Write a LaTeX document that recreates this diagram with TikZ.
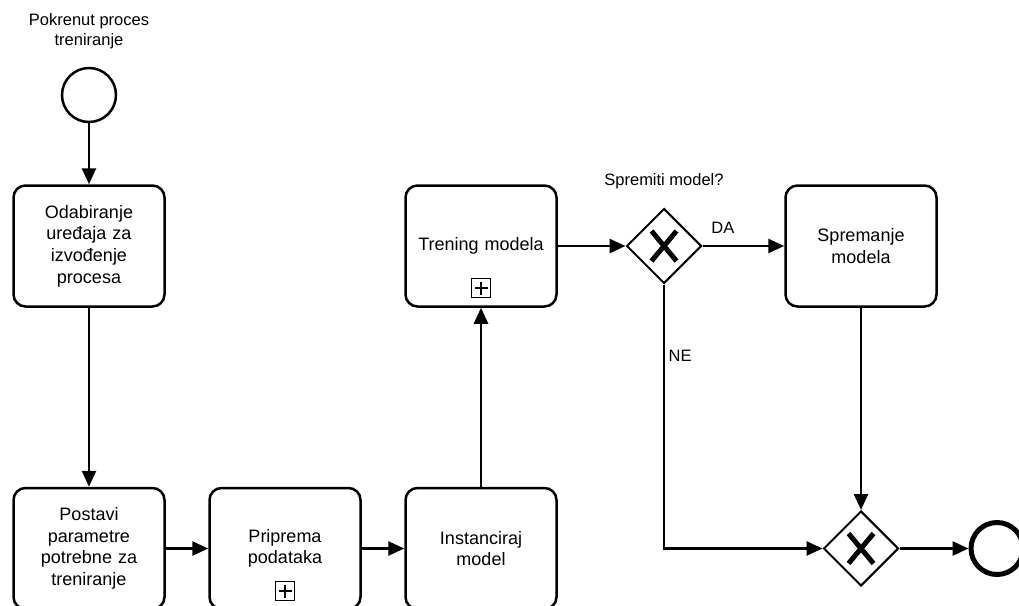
\documentclass[tikz,border=0pt]{standalone}
\usepackage{fontspec}
\setmainfont{Liberation Sans}
\usetikzlibrary{shapes.geometric,arrows.meta,positioning,calc}

\begin{document}
\begin{tikzpicture}[x=1pt,y=-1pt,
  task/.style={draw,line width=2.5pt,rounded corners=12pt,minimum width=151pt,
    minimum height=121pt,text width=140pt,align=center,
    font=\fontsize{18}{21.6}\selectfont},
  gate/.style={draw,diamond,aspect=1,line width=2pt,minimum size=75pt,inner sep=0pt},
  flow/.style={line width=2.6pt,-{Triangle[length=16pt,width=14pt]}},
  lbl/.style={align=center,font=\fontsize{16.5}{20}\selectfont}]

% Page size
\useasboundingbox (0,0) rectangle (1019,605);

% Exclusive gateway marker
\def\xmark#1{\draw[line width=5pt] ($(#1)+(-12.5,-15)$) -- ($(#1)+(12.5,15)$)
  ($(#1)+(12.5,-15)$) -- ($(#1)+(-12.5,15)$);}

% Sub-process marker
\def\plusmark#1{\draw[line width=1.5pt] ($(#1)+(-9.5,-9.5)$) rectangle ($(#1)+(9.5,9.5)$);
  \draw[line width=2.8pt] ($(#1)+(-6.5,0)$) -- ($(#1)+(6.5,0)$) ($(#1)+(0,-6.5)$) -- ($(#1)+(0,6.5)$);}

% Events
\node[draw,circle,line width=2.5pt,minimum size=54pt] (start) at (89,95) {};
\node[lbl] (startlbl) at (89,31.5) {Pokrenut proces\\treniranje};
\node[draw,circle,line width=5pt,minimum size=52pt] (end) at (997,548.5) {};

% Tasks
\node[task] (odab) at (89,246) {Odabiranje\\uređaja za\\izvođenje\\procesa};
\node[task] (postavi) at (89,548.5) {Postavi\\parametre\\potrebne za\\treniranje};
\node[task] (priprema) at (285,548.5) {Priprema\\podataka};
\node[task] (inst) at (481,548.5) {Instanciraj\\model};
\node[task] (trening) at (481,246) {Trening modela};
\node[task] (sprem) at (861,246) {Spremanje\\modela};

\coordinate (pplus) at (285,591);
\coordinate (tplus) at (481,288);
\plusmark{pplus}
\plusmark{tplus}

% Gateways
\node[gate] (g1) at (664,246) {};
\node[gate] (g2) at (861,548.5) {};
\xmark{g1}
\xmark{g2}
\node[lbl] (g1lbl) at (664,181) {Spremiti model?};

% Flows
\draw[flow] (start) -- (odab);
\draw[flow] (odab) -- (postavi);
\draw[flow] (postavi) -- (priprema);
\draw[flow] (priprema) -- (inst);
\draw[flow] (inst) -- (trening);
\draw[flow] (trening) -- (g1);
\draw[flow] (g1) -- node[lbl,above,pos=0.25,yshift=8pt] (da) {DA} (sprem);
\draw[flow] (g1.south) |- node[lbl,right,pos=0.135] (ne) {NE} (g2.west);
\draw[flow] (sprem) -- (g2);
\draw[flow] (g2) -- (end);

\end{tikzpicture}
\end{document}
